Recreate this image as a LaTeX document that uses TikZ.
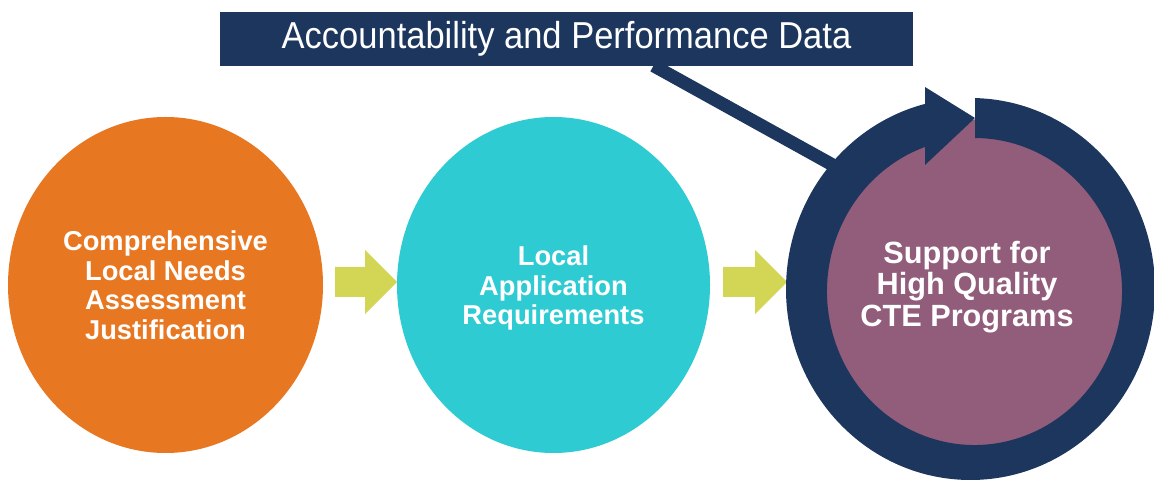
\documentclass[tikz,border=0pt]{standalone}
\usepackage{fontspec}
\setmainfont{Liberation Sans}
\usetikzlibrary{shapes.geometric,calc}
\definecolor{navy}{HTML}{1C365E}
\definecolor{orng}{HTML}{E87722}
\definecolor{cyn}{HTML}{2ECBD3}
\definecolor{purp}{HTML}{915D7B}
\definecolor{grn}{HTML}{D3D655}
\begin{document}
\begin{tikzpicture}[x=1pt,y=1pt,
  circ/.style={ellipse, draw=none, inner sep=0pt, outer sep=0pt},
  ctext/.style={text=white, align=center, inner sep=0pt, font=\bfseries\fontsize{27.3}{29.5}\selectfont},
  bigtext/.style={text=white, align=center, inner sep=0pt, font=\bfseries\fontsize{30.7}{31.5}\selectfont},
  blockarrow/.style={fill=grn, draw=none},
  conn/.style={draw=navy, line width=13pt},
  bannerbox/.style={fill=navy, text=white, inner sep=0pt, outer sep=0pt, font=\fontsize{37.5}{40}\selectfont}]
\useasboundingbox (0,0) rectangle (1154,482);
\fill[white] (0,0) rectangle (1154,482);
% circles
\node[circ, fill=orng, minimum width=315pt, minimum height=336pt] (c1) at (165.5,197) {};
\node[circ, fill=cyn, minimum width=313pt, minimum height=336pt] (c2) at (553.5,197) {};
% block arrows
\fill[blockarrow] (335,215) -- (365,215) -- (365,232) -- (397,200) -- (365,168) -- (365,185) -- (335,185) -- cycle;
\fill[blockarrow] (723,215) -- (755,215) -- (755,232) -- (787,200) -- (755,168) -- (755,185) -- (723,185) -- cycle;
% banner
\node[bannerbox, minimum width=693pt, minimum height=54pt] (banner) at (566.5,443) {\raisebox{-2.5pt}{\scalebox{0.92}[1]{Accountability and Performance Data}}};
% connector from banner into the ring
\coordinate (ringend) at (840,313);
\draw[conn] ($(banner.south)+(93.5,4)$) ++(-6.5,-3.7) -- (ringend);
% purple core
\node[circ, fill=purp, minimum width=300pt, minimum height=328pt] (c3) at (974.5,198.5) {};
% circular arrow ring
\fill[navy] (970.5,193) ++(88.6:184.5pt and 191pt)
  arc[start angle=88.6, end angle=-255.7, x radius=184.5pt, y radius=191pt]
  -- ($(974.5,190.5)+(109.6:147.5pt and 153.5pt)$)
  arc[start angle=-250.4, end angle=89.8, x radius=147.5pt, y radius=153.5pt]
  -- cycle;
\fill[navy] (925,395) -- (975,364) -- (925,317) -- cycle;
% texts
\node[ctext] (t1) at (c1.center) {Comprehensive\\Local Needs\\Assessment\\Justification};
\node[ctext] (t2) at ($(c2.center)+(0,-3)$) {Local\\Application\\Requirements};
\node[bigtext] (t3) at (967,195) {Support for\\High Quality\\CTE Programs};
\end{tikzpicture}
\end{document}
